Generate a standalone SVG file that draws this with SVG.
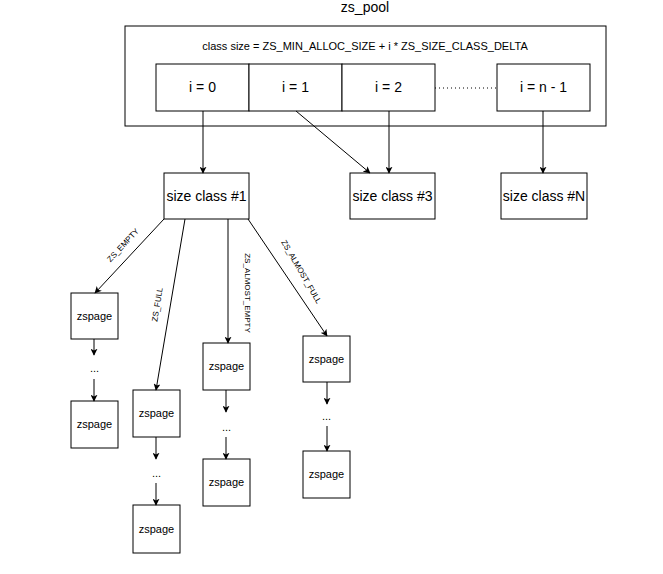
<svg xmlns="http://www.w3.org/2000/svg" width="663" height="574" viewBox="0 0 663 574">
<style>
.b{fill:#fff;stroke:#000;stroke-width:1}
.t{font-family:"Liberation Sans",Arial,sans-serif;fill:#000;text-anchor:middle}
.c{stroke:#000;stroke-width:1;fill:none;marker-end:url(#a)}
.l{font-family:"Liberation Sans",Arial,sans-serif;font-size:8px;fill:#000;text-anchor:middle}
</style>
<defs>
<marker id="a" viewBox="0 0 10 10" refX="9" refY="5" markerWidth="7" markerHeight="7" markerUnits="userSpaceOnUse" orient="auto">
<path d="M0,0 L10,5 L0,10 L2.5,5 z" fill="#000"/>
</marker>
</defs>
<rect width="663" height="574" fill="#fff"/>
<g id="pool">
<text class="t" x="365" y="12" font-size="14">zs_pool</text>
<rect class="b" x="125" y="26" width="481" height="100"/>
<text class="t" x="365" y="50" font-size="11">class size = ZS_MIN_ALLOC_SIZE + i * ZS_SIZE_CLASS_DELTA</text>
</g>
<g id="i0"><rect class="b" x="156" y="64" width="93" height="47"/><text class="t" x="202.5" y="92" font-size="14">i = 0</text></g>
<g id="i1"><rect class="b" x="249" y="64" width="93" height="47"/><text class="t" x="295.5" y="92" font-size="14">i = 1</text></g>
<g id="i2"><rect class="b" x="342" y="64" width="93" height="47"/><text class="t" x="388.5" y="92" font-size="14">i = 2</text></g>
<g id="in"><rect class="b" x="497" y="64" width="93" height="47"/><text class="t" x="543.5" y="92" font-size="14">i = n - 1</text></g>
<g id="sc1"><rect class="b" x="164" y="173" width="85" height="46"/><text class="t" x="206.5" y="201" font-size="14">size class #1</text></g>
<g id="sc3"><rect class="b" x="350" y="173" width="85" height="46"/><text class="t" x="392.5" y="201" font-size="14">size class #3</text></g>
<g id="scN"><rect class="b" x="501" y="173" width="86" height="46"/><text class="t" x="544" y="201" font-size="14">size class #N</text></g>
<g id="z1a"><rect class="b" x="71" y="293" width="47" height="46"/><text class="t" x="94.5" y="320" font-size="11">zspage</text></g>
<g id="z1b"><rect class="b" x="71" y="401" width="47" height="47"/><text class="t" x="94.5" y="428" font-size="11">zspage</text></g>
<g id="z2a"><rect class="b" x="133" y="390" width="47" height="47"/><text class="t" x="156.5" y="417" font-size="11">zspage</text></g>
<g id="z2b"><rect class="b" x="133" y="505" width="47" height="48"/><text class="t" x="156.5" y="533" font-size="11">zspage</text></g>
<g id="z3a"><rect class="b" x="203" y="343" width="47" height="47"/><text class="t" x="226.5" y="370" font-size="11">zspage</text></g>
<g id="z3b"><rect class="b" x="203" y="459" width="47" height="47"/><text class="t" x="226.5" y="486" font-size="11">zspage</text></g>
<g id="z4a"><rect class="b" x="303" y="336" width="47" height="46"/><text class="t" x="326.5" y="363" font-size="11">zspage</text></g>
<g id="z4b"><rect class="b" x="303" y="451" width="47" height="47"/><text class="t" x="326.5" y="478" font-size="11">zspage</text></g>
<g id="dots" class="t" font-size="11">
<text x="94.5" y="372">...</text>
<text x="156.5" y="477">...</text>
<text x="226.5" y="431">...</text>
<text x="326.5" y="420">...</text>
</g>
<g id="connectors">
<line x1="435" y1="88" x2="497" y2="88" stroke="#000" stroke-width="1" stroke-dasharray="1,3"/>
<path class="c" d="M203,111 L203,173"/>
<path class="c" d="M296,111 L370,173"/>
<path class="c" d="M389,111 L389,173"/>
<path class="c" d="M543,111 L543,173"/>
<path class="c" d="M164,219 L95,293"/>
<path class="c" d="M185,219 L156,390"/>
<path class="c" d="M228,219 L228,343"/>
<path class="c" d="M248,219 L327,336"/>
<path class="c" d="M94,339 L94,355"/>
<path class="c" d="M94,379 L94,401"/>
<path class="c" d="M156,437 L156,459"/>
<path class="c" d="M156,483 L156,505"/>
<path class="c" d="M226,390 L226,412"/>
<path class="c" d="M226,437 L226,459"/>
<path class="c" d="M327,382 L327,404"/>
<path class="c" d="M327,426 L327,451"/>
<text class="l" transform="translate(125,247) rotate(-47)">ZS_EMPTY</text>
<text class="l" transform="translate(160,305) rotate(-81)">ZS_FULL</text>
<text class="l" transform="translate(245,293) rotate(90)">ZS_ALMOST_EMPTY</text>
<text class="l" transform="translate(299,273) rotate(60)">ZS_ALMOST_FULL</text>
</g>
</svg>
